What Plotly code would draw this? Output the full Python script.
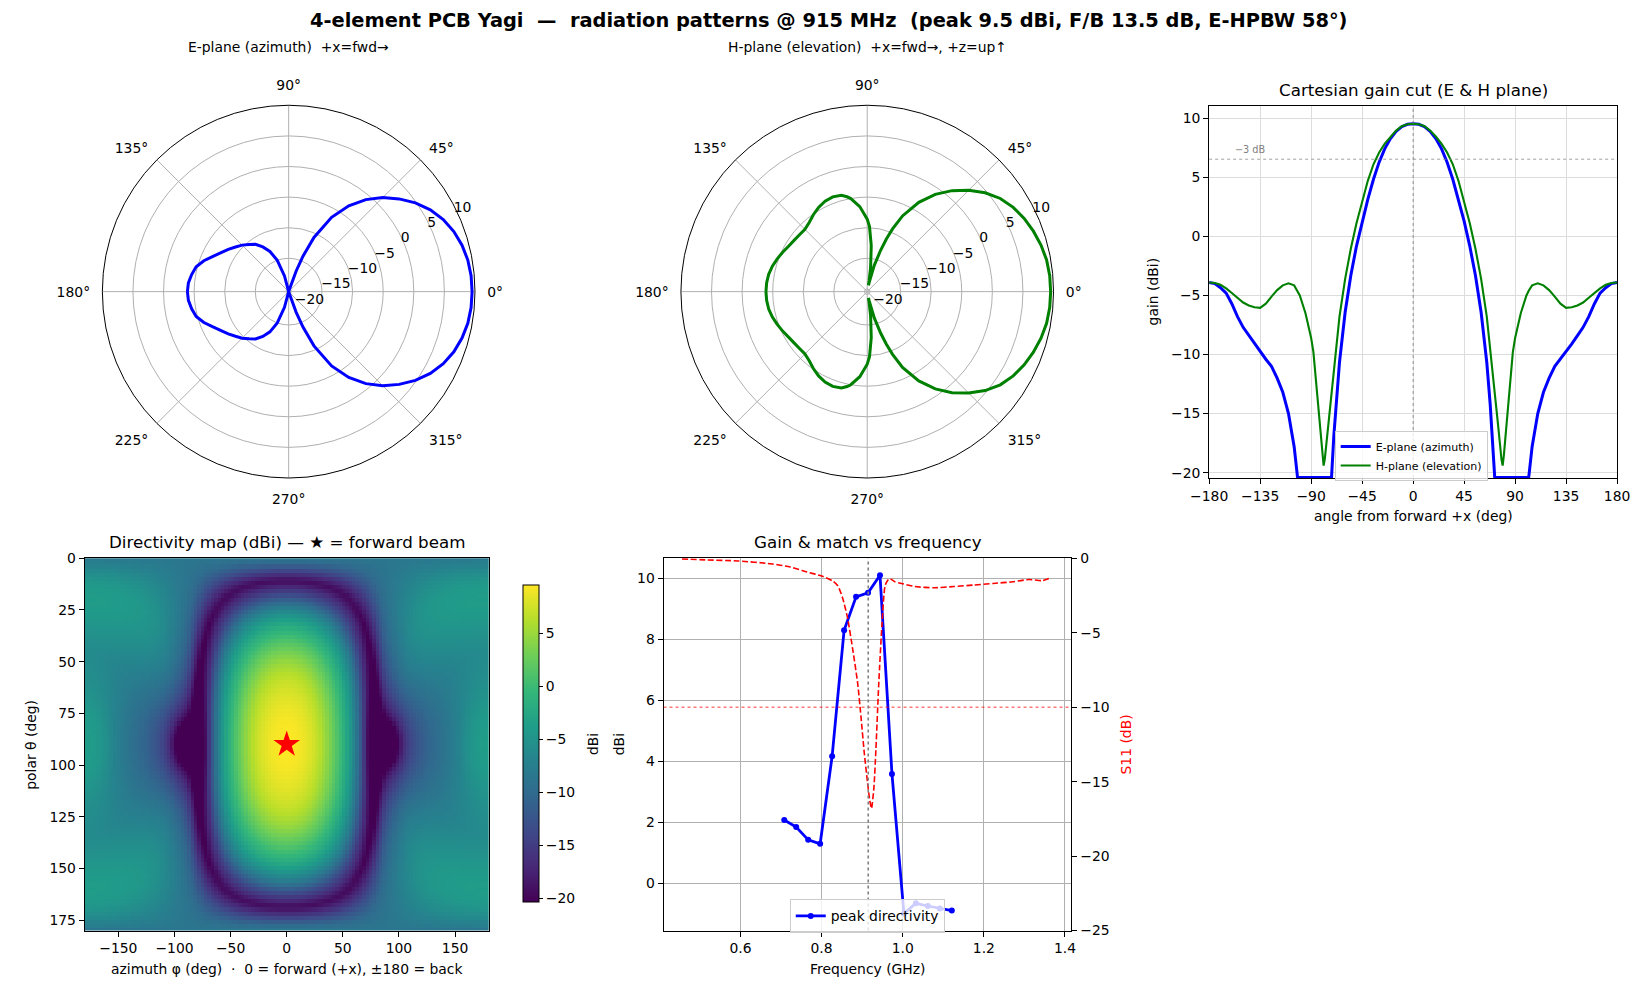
import numpy as np
import plotly.graph_objects as go

FONT = "DejaVu Sans"

# ---------------- pattern cuts ----------------
ANG = [-180, -175, -170, -165, -160, -155, -150, -145, -140, -135, -130, -125, -120, -115, -110, -105,
       -102, -100, -95, -90, -88, -85, -82, -80, -79, -78, -75, -72, -70, -68, -65, -60, -55, -50,
       -45, -40, -35, -30, -25, -20, -15, -10, -5, 0,
       5, 10, 15, 20, 25, 30, 35, 40, 45, 50, 55, 60, 65, 68, 70, 72, 75, 78, 79, 80, 82, 85, 88,
       90, 95, 100, 102, 105, 110, 115, 120, 125, 130, 135, 140, 145, 150, 155, 160, 165, 170, 175, 180]

E_DB = [-3.9, -4.0, -4.35, -4.8, -5.7, -6.8, -7.7, -8.4, -9.1, -9.7, -10.4, -11.0, -12.0, -13.2, -15.0, -17.8,
        -20.4, -20.4, -20.4, -20.4, -20.4, -20.4, -20.4, -20.4, -20.4, -20.4, -20.4, -20.4,
        -16.9, -14.2, -10.67, -6.42, -3.32, -0.82, 1.28, 3.13, 4.83, 6.28, 7.43, 8.28, 8.88, 9.28, 9.48,
        9.53,
        9.48, 9.28, 8.88, 8.28, 7.43, 6.28, 4.83, 3.13, 1.28, -0.82, -3.32, -6.42, -10.67, -14.2, -16.9,
        -20.4, -20.4, -20.4, -20.4, -20.4, -20.4, -20.4, -20.4, -20.4, -20.4, -20.4, -20.4,
        -17.8, -15.0, -13.2, -12.0, -11.0, -10.4, -9.7, -9.1, -8.4, -7.7, -6.8, -5.7, -4.8, -4.35, -4.0, -3.9]

H_DB = [-3.9, -3.95, -4.1, -4.4, -4.8, -5.2, -5.6, -5.85, -6.0, -6.05, -5.7, -5.1, -4.55, -4.15, -3.97, -4.15,
        -4.6, -5.0, -6.5, -8.6, -9.8, -12.9, -16.5, -18.6, -19.4, -18.9, -16.0, -13.3, -11.3, -9.4,
        -6.8, -3.6, -1.05, 1.1, 3.0, 4.7, 6.1, 7.1, 7.85, 8.45, 8.95, 9.32, 9.49,
        9.53,
        9.49, 9.32, 8.95, 8.45, 7.85, 7.1, 6.1, 4.7, 3.0, 1.1, -1.05, -3.6, -6.8, -9.4, -11.3, -13.3,
        -16.0, -18.9, -19.4, -18.6, -16.5, -12.9, -9.8, -8.6, -6.5, -5.0, -4.6, -4.15, -3.97, -4.15,
        -4.55, -5.1, -5.7, -6.05, -6.0, -5.85, -5.6, -5.2, -4.8, -4.4, -4.1, -3.95, -3.9]

FLOOR_DB = -20.4
PEAK_DB = 9.53
HALF_POWER_DB = PEAK_DB - 3.0

# ---------------- frequency sweep ----------------
F_DIR_GHZ = [0.708, 0.7375, 0.767, 0.7965, 0.826, 0.8555, 0.885, 0.9145, 0.944, 0.9735,
             1.003, 1.0325, 1.062, 1.0915, 1.121]
DIR_DBI = [2.07, 1.84, 1.42, 1.29, 4.16, 8.29, 9.39, 9.52, 10.10, 3.58,
           -1.0, -0.66, -0.75, -0.83, -0.90]

F_S11_GHZ = [0.456, 0.514, 0.594, 0.675, 0.723, 0.764, 0.800, 0.828, 0.840, 0.852, 0.864, 0.876,
             0.889, 0.897, 0.905, 0.913, 0.919, 0.923, 0.929, 0.934, 0.941, 0.949, 0.957, 0.967,
             0.981, 0.997, 1.030, 1.078, 1.126, 1.175, 1.223, 1.271, 1.312, 1.344, 1.364]
S11_DB = [-0.04, -0.11, -0.18, -0.37, -0.59, -0.92, -1.19, -1.54, -1.85, -2.68, -4.0, -5.98,
          -8.4, -10.6, -13.0, -15.0, -16.3, -16.8, -15.4, -12.8, -8.4, -4.4, -1.8, -1.36,
          -1.58, -1.69, -1.9, -1.98, -1.9, -1.8, -1.69, -1.58, -1.43, -1.5, -1.32]
F_MARK_GHZ = 0.915
S11_REF_DB = -10

# ---------------- directivity map grid, built from the two cuts ----------------
PHI_DEG = np.arange(-180, 181, 3)
THETA_DEG = np.arange(0, 181, 2)

ang = np.array(ANG, float)
e = np.array(E_DB, float)
h = np.array(H_DB, float)
half = ang >= 0
a_half, e_half, h_half = ang[half], e[half], h[half]

# element-factor exponent implied by the two cuts (E = H + k * 10log10(cos^2 psi))
ok = ((a_half >= 10) & (a_half <= 60)) | ((a_half >= 120) & (a_half <= 175))
k_nodes = (e_half[ok] - h_half[ok]) / (10 * np.log10(np.cos(np.radians(a_half[ok])) ** 2))
k_ang = a_half[ok]

T, P = np.meshgrid(np.radians(THETA_DEG), np.radians(PHI_DEG), indexing="ij")
ux = np.sin(T) * np.cos(P)
uy = np.sin(T) * np.sin(P)
psi = np.degrees(np.arccos(np.clip(ux, -1, 1)))
k_map = np.interp(psi, k_ang, k_nodes)
Z = np.interp(psi, a_half, h_half) + k_map * 10 * np.log10(np.maximum(1 - uy ** 2, 1e-9))
Z = np.maximum(Z, FLOOR_DB)

# ---------------- figure ----------------
W, H = 1650, 990
fig = go.Figure()

TICKF = dict(family=FONT, size=13.9, color="black")

fig.add_trace(go.Scatterpolar(r=E_DB, theta=ANG, mode="lines", subplot="polar",
                              line=dict(color="blue", width=3), showlegend=False))
fig.add_trace(go.Scatterpolar(r=H_DB, theta=ANG, mode="lines", subplot="polar2",
                              line=dict(color="green", width=3), showlegend=False))

fig.add_trace(go.Scatter(x=ANG, y=E_DB, mode="lines", name="E-plane (azimuth)",
                         line=dict(color="blue", width=3), xaxis="x", yaxis="y", legend="legend"))
fig.add_trace(go.Scatter(x=ANG, y=H_DB, mode="lines", name="H-plane (elevation)",
                         line=dict(color="green", width=2.1), xaxis="x", yaxis="y", legend="legend"))

fig.add_trace(go.Heatmap(x=PHI_DEG, y=THETA_DEG, z=Z, colorscale="Viridis",
                         zmin=float(Z.min()), zmax=float(Z.max()), xaxis="x2", yaxis="y2",
                         colorbar=dict(x=513.5 / W, xanchor="left", xpad=0, ypad=0,
                                       y=1 - 748 / H, yanchor="middle", len=322 / H, lenmode="fraction",
                                       thickness=16, thicknessmode="pixels",
                                       outlinecolor="black", outlinewidth=1,
                                       ticks="outside", ticklen=4, tickcolor="black",
                                       tickvals=[-20, -15, -10, -5, 0, 5], tickfont=TICKF),
                         showlegend=False))
fig.add_trace(go.Scatter(x=[0], y=[90], mode="markers", xaxis="x2", yaxis="y2",
                         marker=dict(symbol="star", size=20, color="red", line=dict(width=0)),
                         showlegend=False))

fig.add_trace(go.Scatter(x=F_DIR_GHZ, y=DIR_DBI, mode="lines+markers", name="peak directivity",
                         line=dict(color="blue", width=2.8), marker=dict(size=6, color="blue"),
                         xaxis="x3", yaxis="y3", legend="legend2"))
fig.add_trace(go.Scatter(x=F_S11_GHZ, y=S11_DB, mode="lines", name="S11",
                         line=dict(color="red", width=1.6, dash="6px,2.6px", shape="spline", smoothing=0.6),
                         xaxis="x3", yaxis="y4", showlegend=False))


def axis(**kw):
    d = dict(showline=True, linecolor="black", linewidth=1, mirror=True, ticks="outside",
             ticklen=5, tickwidth=1, tickcolor="black", tickfont=TICKF, zeroline=False,
             showgrid=True, gridcolor="#b0b0b0", gridwidth=0.8)
    d.update(kw)
    return d


def polar(cx):
    r = 190
    return dict(
        domain=dict(x=[(cx - r) / W, (cx + r) / W], y=[1 - (288.3 + r) / H, 1 - (288.3 - r) / H]),
        bgcolor="white",
        radialaxis=dict(range=[-20.45, 10], tickvals=[-20, -15, -10, -5, 0, 5, 10], angle=30,
                        tickangle=30, side="clockwise", showline=False, ticks="",
                        gridcolor="#b0b0b0", gridwidth=0.8, tickfont=TICKF),
        angularaxis=dict(tickvals=[0, 45, 90, 135, 180, 225, 270, 315],
                         ticktext=["0°", "45°", "90°", "135°", "180°", "225°", "270°", "315°"],
                         showline=True, linecolor="black", linewidth=1, gridcolor="#b0b0b0",
                         gridwidth=0.8, ticks="outside", ticklen=9, tickcolor="rgba(0,0,0,0)",
                         tickfont=TICKF, rotation=0, direction="counterclockwise"),
    )


yb1, yt1 = 1 - 477.7 / H, 1 - 100 / H
yb2, yt2 = 1 - 937.7 / H, 1 - 559.3 / H

fig.update_layout(
    width=W, height=H, margin=dict(l=0, r=0, t=0, b=0),
    paper_bgcolor="white", plot_bgcolor="white",
    font=dict(family=FONT, size=13.9, color="black"),
    polar=polar(275), polar2=polar(865),
    xaxis=axis(domain=[1213.7 / W, 1629.7 / W], range=[-180, 180], tickvals=list(range(-180, 181, 45)),
               gridcolor="#dcdcdc", anchor="y"),
    yaxis=axis(domain=[yb1, yt1], range=[-20.45, 11.0], tickvals=[-20, -15, -10, -5, 0, 5, 10],
               gridcolor="#dcdcdc", anchor="x"),
    xaxis2=axis(domain=[67 / W, 479 / W], range=[-180, 180], tickvals=[-150, -100, -50, 0, 50, 100, 150],
                showgrid=False, anchor="y2"),
    yaxis2=axis(domain=[yb2, yt2], range=[180, 0], tickvals=list(range(0, 176, 25)), showgrid=False,
                anchor="x2"),
    xaxis3=axis(domain=[657.3 / W, 1073.3 / W], range=[0.4105, 1.416], tickvals=[0.6, 0.8, 1.0, 1.2, 1.4],
                tickformat=".1f", anchor="y3"),
    yaxis3=axis(domain=[yb2, yt2], range=[-1.555, 10.655], tickvals=[0, 2, 4, 6, 8, 10], anchor="x3"),
    yaxis4=dict(overlaying="y3", side="right", anchor="x3", range=[-25, 0],
                tickvals=[-25, -20, -15, -10, -5, 0], showgrid=False, zeroline=False,
                showline=True, linecolor="black", linewidth=1, ticks="outside", ticklen=5,
                tickcolor="black", tickfont=TICKF),
    legend=dict(x=1341.7 / W, y=1 - 430 / H, xanchor="left", yanchor="top",
                bgcolor="rgba(255,255,255,0.8)", bordercolor="#cccccc", borderwidth=1,
                font=dict(family=FONT, size=11, color="black"), itemwidth=30, tracegroupgap=0),
    legend2=dict(x=786 / W, y=1 - 906 / H, xanchor="left", yanchor="top",
                 bgcolor="rgba(255,255,255,0.8)", bordercolor="#cccccc", borderwidth=1,
                 font=dict(family=FONT, size=13.9, color="black"), itemwidth=30),
)

fig.add_shape(type="line", xref="x", yref="y", x0=0, x1=0, y0=-20.45, y1=11.0,
              line=dict(color="#777777", width=0.8, dash="dot"))
fig.add_shape(type="line", xref="x", yref="y", x0=-180, x1=180, y0=HALF_POWER_DB, y1=HALF_POWER_DB,
              line=dict(color="#888888", width=0.8, dash="dot"))
fig.add_shape(type="line", xref="x3 domain", yref="y4", x0=0, x1=1, y0=S11_REF_DB, y1=S11_REF_DB,
              line=dict(color="red", width=0.8, dash="dot"))
fig.add_shape(type="line", xref="x3", yref="y3 domain", x0=F_MARK_GHZ, x1=F_MARK_GHZ, y0=0, y1=1,
              line=dict(color="gray", width=1.6, dash="dot"))

NB = "\u00a0"


def ann(text, x, y, size=13.9, color="black", bold=False, angle=0, xanchor="center", xref="paper", yref="paper"):
    if bold:
        text = "<b>" + text + "</b>"
    fig.add_annotation(text=text, x=x, y=y, xref=xref, yref=yref, showarrow=False,
                       xanchor=xanchor, yanchor="middle", textangle=angle,
                       font=dict(family=FONT, size=size, color=color))


ann("4-element PCB Yagi " + NB + "— " + NB + "radiation patterns @ 915 MHz " + NB +
    "(peak 9.5 dBi, F/B 13.5 dB, E-HPBW 58°)", 0.5, 1 - 12.6 / H, size=19.4, bold=True)
ann("E-plane (azimuth) " + NB + "+x=fwd→", 275 / W, 1 - 40 / H)
ann("H-plane (elevation) " + NB + "+x=fwd→, +z=up↑", 865 / W, 1 - 40 / H)
ann("Cartesian gain cut (E &amp; H plane)", (1213.7 + 1629.7) / 2 / W, 1 - 83 / H, size=16.7)
ann("Directivity map (dBi) — ★ = forward beam", (67 + 479) / 2 / W, 1 - 543 / H, size=16.7)
ann("Gain &amp; match vs frequency", (657.3 + 1073.3) / 2 / W, 1 - 543 / H, size=16.7)
ann("angle from forward +x (deg)", (1213.7 + 1629.7) / 2 / W, 1 - 516.7 / H)
ann("gain (dBi)", 1156.6 / W, 1 - 288.9 / H, angle=-90)
ann("azimuth φ (deg) " + NB + "· " + NB + "0 = forward (+x), ±180 = back", (67 + 479) / 2 / W, 1 - 976.7 / H)
ann("polar θ (deg)", 12.6 / W, 1 - 748.5 / H, angle=-90)
ann("dBi", 586 / W, 1 - 748.5 / H, angle=-90)
ann("Frequency (GHz)", (657.3 + 1073.3) / 2 / W, 1 - 976.7 / H)
ann("dBi", 612.7 / W, 1 - 748.5 / H, angle=-90)
ann("S11 (dB)", 1129 / W, 1 - 748.5 / H, angle=-90, color="red")
ann("−3 dB", -159, HALF_POWER_DB + 0.8, size=9.7, color="gray", xanchor="left", xref="x", yref="y")

POST = ("var d=document.getElementById('{plot_id}');"
        "var s=[document.documentElement,document.body];"
        "for(var i=0;i<s.length;i++){s[i].style.margin='0';s[i].style.padding='0';s[i].style.overflow='hidden';}"
        "if(d){d.style.position='fixed';d.style.left='0px';d.style.top='0px';}")
fig.write_html("out.html", config={"displayModeBar": False}, post_script=POST)
